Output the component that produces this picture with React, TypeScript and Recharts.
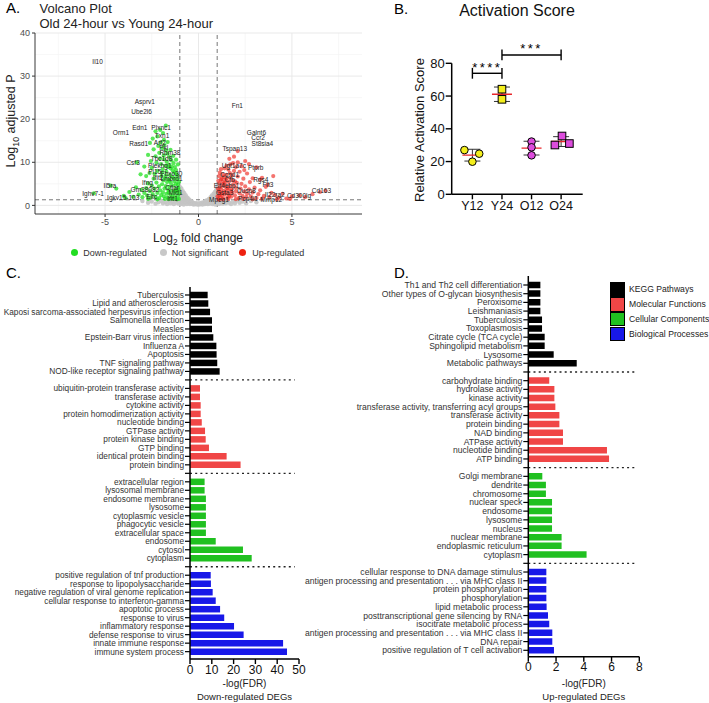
import React from 'react'
import {
  ScatterChart, Scatter, XAxis, YAxis, CartesianGrid, ReferenceLine, ErrorBar,
  BarChart, Bar, Cell,
} from 'recharts'

const FONT = '"Liberation Sans", Arial, Helvetica, sans-serif'

// ---------- A. volcano plot (log2 fold change, -log10 padj)
const notSigPoints = [
  [-1.0, 4.3], [-0.99, 3.4], [-0.98, 2.5], [-0.97, 1.7], [-0.96, 0.9], [-0.95, 0.3],
  [-0.92, 3.9], [-0.91, 3.0], [-0.9, 2.1], [-0.89, 1.3], [-0.87, 0.6],
  [-0.84, 3.3], [-0.83, 2.5], [-0.82, 1.7], [-0.8, 0.9], [-0.79, 0.2],
  [-0.76, 2.8], [-0.75, 2.0], [-0.73, 1.3], [-0.71, 0.6],
  [-0.68, 2.3], [-0.66, 1.6], [-0.64, 0.9], [-0.62, 0.3],
  [-0.59, 1.8], [-0.57, 1.2], [-0.55, 0.6], [-0.51, 1.4], [-0.49, 0.9], [-0.46, 0.3],
  [-0.43, 1.1], [-0.4, 0.6], [-0.36, 0.9], [-0.33, 0.3], [-0.29, 0.6], [-0.25, 0.2],
  [-0.21, 0.5], [-0.16, 0.3], [-0.11, 0.5], [-0.06, 0.2], [-0.02, 0.4],
  [0.03, 0.2], [0.07, 0.5], [0.12, 0.3], [0.17, 0.6], [0.21, 0.2], [0.26, 0.5], [0.3, 0.8],
  [0.34, 0.3], [0.38, 1.0], [0.42, 0.5], [0.46, 1.2], [0.5, 0.3], [0.53, 0.8], [0.56, 1.5],
  [0.6, 0.4], [0.62, 1.1], [0.65, 1.9], [0.68, 0.6], [0.7, 1.5], [0.72, 2.3], [0.75, 0.3],
  [0.77, 1.0], [0.79, 1.8], [0.81, 2.7], [0.84, 0.6], [0.85, 1.4], [0.87, 2.2], [0.88, 3.1],
  [0.9, 0.2], [0.91, 1.0], [0.92, 1.8], [0.94, 2.7], [0.95, 3.6], [0.97, 0.6], [0.98, 1.4],
  [0.99, 2.3], [1.0, 3.2], [1.0, 4.1],
  [-1.05, 0.4], [-1.1, 1.0], [-1.18, 0.6], [-1.25, 1.1], [-1.32, 0.3], [-1.4, 0.8], [-1.5, 0.5],
  [-1.58, 1.0], [-1.68, 0.3], [-1.78, 0.8], [-1.9, 0.5], [-2.0, 1.0], [-2.15, 0.7], [-2.3, 0.4],
  [-2.5, 0.9], [-2.7, 0.6], [-3.0, 1.0],
  [1.05, 0.9], [1.1, 0.3], [1.17, 0.7], [1.24, 1.1], [1.3, 0.4], [1.38, 0.9], [1.46, 0.5],
  [1.55, 1.1], [1.64, 0.6], [1.74, 0.3], [1.84, 0.9], [1.95, 0.5], [2.05, 1.1], [2.2, 0.6],
  [2.35, 0.9], [2.55, 0.5], [2.8, 1.0], [3.1, 0.7],
]

const downPoints = [
  [-1.05, 1.5], [-1.1, 2.3], [-1.15, 3.2], [-1.08, 4.1], [-1.2, 5.0], [-1.12, 6.1], [-1.25, 1.9],
  [-1.3, 2.8], [-1.22, 3.7], [-1.35, 4.6], [-1.28, 5.6], [-1.4, 6.5], [-1.18, 7.3], [-1.45, 1.6],
  [-1.5, 2.5], [-1.42, 3.4], [-1.55, 4.3], [-1.48, 5.2], [-1.6, 6.0], [-1.52, 7.0], [-1.65, 1.8],
  [-1.7, 2.7], [-1.62, 3.6], [-1.75, 4.5], [-1.68, 5.4], [-1.8, 6.3], [-1.72, 7.8], [-1.85, 2.1],
  [-1.9, 3.0], [-1.82, 3.9], [-1.95, 4.9], [-1.88, 5.8], [-2.0, 2.4], [-1.98, 6.8], [-2.05, 3.5],
  [-2.1, 1.7], [-2.12, 4.4], [-2.2, 2.9], [-2.25, 5.3], [-2.3, 2.0], [-2.35, 3.9], [-2.4, 6.2],
  [-2.45, 2.6], [-2.5, 4.6], [-2.55, 1.8], [-2.6, 3.3], [-2.7, 5.1], [-2.75, 2.3], [-2.8, 4.0],
  [-2.9, 2.9], [-3.0, 1.9], [-3.05, 3.6], [-3.2, 2.5], [-3.35, 4.2], [-3.5, 2.0], [-3.7, 3.1],
  [-4.0, 2.2], [-4.4, 3.9], [-4.7, 4.6], [-5.6, 2.8], [-3.9, 1.7],
  [-1.02, 2.8], [-1.06, 3.6], [-1.1, 4.8], [-1.04, 5.5], [-1.14, 6.9], [-1.2, 8.2], [-1.3, 7.6],
  [-1.26, 8.9], [-1.38, 8.1], [-1.44, 9.0], [-1.34, 9.8], [-1.5, 8.6], [-1.58, 9.4], [-1.46, 10.5],
  [-1.64, 8.9], [-1.7, 10.1], [-1.56, 11.2], [-1.78, 9.2], [-1.84, 10.7], [-1.66, 12.0],
  [-1.92, 8.4], [-1.74, 12.8], [-1.86, 11.6], [-2.0, 9.6], [-1.94, 13.3], [-2.06, 10.9],
  [-1.82, 14.0], [-2.1, 12.2], [-2.2, 8.0], [-2.15, 13.8], [-2.02, 14.6], [-2.25, 9.9],
  [-2.3, 11.4], [-2.35, 7.3], [-2.4, 13.0], [-2.5, 8.7], [-2.55, 10.3], [-2.62, 7.5], [-2.7, 11.7],
  [-2.8, 6.8], [-2.9, 9.0], [-3.1, 7.2], [-3.3, 10.0], [-2.45, 15.5], [-2.2, 16.0], [-1.9, 16.8],
  [-2.05, 17.5], [-1.75, 18.5], [-2.3, 17.2], [-1.85, 15.2], [-2.6, 14.5],
  [-1.15, 1.4], [-1.35, 1.5], [-1.6, 1.45], [-1.8, 1.5], [-2.2, 1.4], [-2.7, 1.5],
  [-1.25, 3.3], [-1.4, 2.1], [-1.6, 3.0], [-1.55, 5.8], [-1.3, 6.3], [-1.75, 6.9], [-1.95, 7.6],
  [-1.1, 9.5], [-1.2, 10.6], [-1.35, 11.5], [-1.5, 12.9], [-1.65, 14.7],
]

const upPoints = [
  [1.05, 1.5], [1.1, 2.4], [1.08, 3.3], [1.15, 4.2], [1.12, 5.1], [1.2, 6.0], [1.18, 1.9],
  [1.25, 2.8], [1.22, 3.7], [1.3, 4.6], [1.28, 5.5], [1.35, 6.6], [1.32, 1.6], [1.4, 2.5],
  [1.38, 3.4], [1.45, 4.3], [1.42, 5.2], [1.5, 6.2], [1.48, 7.1], [1.55, 1.8], [1.6, 2.7],
  [1.58, 3.6], [1.65, 4.5], [1.62, 5.4], [1.7, 6.4], [1.68, 7.5], [1.75, 2.0], [1.8, 2.9],
  [1.78, 3.8], [1.85, 4.8], [1.82, 5.8], [1.9, 8.0], [1.95, 2.3], [2.0, 3.3], [1.98, 4.2],
  [2.05, 5.2], [2.1, 6.7], [2.15, 1.7], [2.2, 2.8], [2.25, 3.9], [2.3, 5.0], [2.35, 2.2],
  [2.4, 6.2], [2.45, 3.2], [2.5, 4.4], [2.55, 1.9], [2.6, 2.7], [2.7, 3.7], [2.75, 5.4],
  [2.8, 2.1], [2.9, 3.0], [3.0, 4.1], [3.1, 1.7], [3.2, 2.6], [3.3, 3.5], [3.4, 6.4], [3.5, 2.2],
  [3.6, 4.3], [3.8, 1.9], [3.9, 2.9], [4.0, 6.8], [4.1, 2.4], [4.3, 1.8], [4.5, 2.7], [4.7, 1.6],
  [5.0, 2.1], [5.4, 2.3], [5.7, 1.9], [6.1, 2.6], [6.5, 3.1], [6.8, 3.4],
  [1.02, 2.1], [1.04, 3.9], [1.06, 5.7], [1.1, 6.8], [1.14, 7.6], [1.2, 8.4], [1.3, 7.2],
  [1.4, 8.6], [1.5, 9.2], [1.6, 8.3], [1.7, 9.5], [1.8, 7.0], [1.85, 9.8], [2.0, 8.9],
  [2.1, 10.0], [2.2, 7.8], [2.3, 9.1], [2.45, 8.2], [2.6, 7.4], [2.7, 9.6], [2.9, 6.3],
  [3.1, 8.8], [3.3, 6.0], [3.7, 4.8], [2.1, 12.6], [2.5, 10.3], [1.65, 10.8], [1.9, 11.3],
  [1.1, 1.3], [1.3, 1.4], [1.6, 1.5], [2.0, 1.45], [2.4, 1.5], [2.9, 1.4], [3.4, 1.55],
  [4.2, 1.4], [4.9, 1.5], [1.25, 2.3], [1.45, 3.0], [1.35, 5.0], [1.55, 4.0], [1.75, 3.3],
  [1.95, 5.6], [1.15, 3.0], [1.25, 6.2], [1.45, 5.9], [1.65, 2.2],
]

const geneLabels = [
  { name: 'Il10', x: -5.4, y: 33.4 }, { name: 'Asprv1', x: -2.87, y: 24.2 },
  { name: 'Ube2l6', x: -3.05, y: 21.9 }, { name: 'Orm1', x: -4.15, y: 16.8 },
  { name: 'Edn1', x: -3.14, y: 18.0 }, { name: 'Plxnc1', x: -2.0, y: 18.1 },
  { name: 'Txn1', x: -1.95, y: 16.3 }, { name: 'Rasd1', x: -3.2, y: 14.3 },
  { name: 'Arf2', x: -2.07, y: 14.6 }, { name: 'Pkl', x: -1.86, y: 13.5 },
  { name: 'Rbm38', x: -1.53, y: 12.2 }, { name: 'Tbc1d8', x: -1.98, y: 10.9 },
  { name: 'Csf3', x: -3.5, y: 9.9 }, { name: 'Plekhg1', x: -2.07, y: 9.3 },
  { name: 'Pi15', x: -2.34, y: 7.8 }, { name: 'Fbxo30', x: -1.44, y: 7.4 },
  { name: 'Ifit2', x: -2.16, y: 6.5 }, { name: 'Lmbrd1', x: -1.44, y: 6.2 },
  { name: 'Ifng', x: -2.73, y: 5.3 }, { name: 'Il5ra', x: -4.74, y: 4.65 },
  { name: 'Gm38082', x: -2.87, y: 3.65 }, { name: 'Cflar', x: -1.41, y: 4.2 },
  { name: 'Ighv7-1', x: -5.64, y: 2.7 }, { name: 'Igkv15-103', x: -4.03, y: 1.86 },
  { name: 'Mid1', x: -1.23, y: 2.9 }, { name: 'Eltc', x: -2.51, y: 1.95 },
  { name: 'Ifit1', x: -1.39, y: 1.55 },
  { name: 'Fn1', x: 2.08, y: 23.2 }, { name: 'Galnt6', x: 3.1, y: 17.0 },
  { name: 'Ccr2', x: 3.19, y: 15.7 }, { name: 'St8sia4', x: 3.42, y: 14.3 },
  { name: 'Tspan13', x: 1.94, y: 13.1 }, { name: 'Ugt1a7c', x: 1.89, y: 9.3 },
  { name: 'Ptprb', x: 3.06, y: 8.8 }, { name: 'Ccnd1', x: 1.67, y: 7.1 },
  { name: 'Cfb', x: 1.67, y: 6.0 }, { name: 'Rgs4', x: 3.33, y: 6.0 },
  { name: 'Flt3', x: 3.72, y: 4.8 }, { name: 'Eif4ebp1', x: 1.5, y: 4.6 },
  { name: 'Dusp8', x: 2.57, y: 3.5 }, { name: 'Gsta3', x: 1.4, y: 3.0 },
  { name: 'Il22ra2', x: 4.08, y: 2.5 }, { name: 'Cd300lg', x: 5.38, y: 2.26 },
  { name: 'Cd163', x: 6.58, y: 3.5 }, { name: 'Mpeg1', x: 1.1, y: 1.3 },
  { name: 'Pcp4l1', x: 2.65, y: 1.7 }, { name: 'Mmp12', x: 3.9, y: 1.3 },
]

// ---------- B. activation score
const groupNames = ['Y12', 'Y24', 'O12', 'O24']
const y12Points = [{ x: 0.73, y: 27.0 }, { x: 1.23, y: 24.8 }, { x: 1.0, y: 19.9 }]
const y24Points = [{ x: 2.0, y: 64.2 }, { x: 2.0, y: 58.0 }]
const o12Points = [{ x: 3.0, y: 32.2 }, { x: 3.0, y: 28.7 }, { x: 3.0, y: 23.8 }]
const o24Points = [{ x: 3.79, y: 30.1 }, { x: 4.03, y: 35.6 }, { x: 4.28, y: 31.0 }]
const groupSummary = [
  { x: 1, y: 23.9, sd: 3.6 }, { x: 2, y: 61.1, sd: 4.4 },
  { x: 3, y: 28.2, sd: 4.2 }, { x: 4, y: 32.2, sd: 3.0 },
]
const sigBrackets = [{ from: 1, to: 2, y: 73.9 }, { from: 2, to: 4, y: 85.1 }]
const sigStars = [{ x: 1.5, y: 79, t: '****' }, { x: 3, y: 90.6, t: '***' }]

// ---------- C. enrichment, down-regulated DEGs
const cKeggLabels = ['Tuberculosis', 'Lipid and atherosclerosis', 'Kaposi sarcoma-associated herpesvirus infection', 'Salmonella infection', 'Measles', 'Epstein-Barr virus infection', 'Influenza A', 'Apoptosis', 'TNF signaling pathway', 'NOD-like receptor signaling pathway']
const cKeggValues = [8.1, 8.4, 9.2, 10.1, 10.1, 10.7, 12.1, 12.2, 12.5, 13.6]
const cMfLabels = ['ubiquitin-protein transferase activity', 'transferase activity', 'cytokine activity', 'protein homodimerization activity', 'nucleotide binding', 'GTPase activity', 'protein kinase binding', 'GTP binding', 'identical protein binding', 'protein binding']
const cMfValues = [4.6, 4.6, 4.9, 4.9, 5.4, 6.9, 7.2, 8.7, 16.8, 23.2]
const cCcLabels = ['extracellular region', 'lysosomal membrane', 'endosome membrane', 'lysosome', 'cytoplasmic vesicle', 'phagocytic vesicle', 'extracellular space', 'endosome', 'cytosol', 'cytoplasm']
const cCcValues = [6.7, 6.7, 7.3, 7.3, 7.3, 7.3, 7.3, 11.8, 24.3, 28.3]
const cBpLabels = ['positive regulation of tnf production', 'response to lipopolysaccharide', 'negative regulation of viral genome replication', 'cellular response to interferon-gamma', 'apoptotic process', 'response to virus', 'inflammatory response', 'defense response to virus', 'innate immune response', 'immune system process']
const cBpValues = [9.5, 9.6, 10.4, 11.8, 13.8, 15.7, 20.2, 24.6, 42.7, 44.5]

// ---------- D. enrichment, up-regulated DEGs
const dKeggLabels = ['Th1 and Th2 cell differentiation', 'Other types of O-glycan biosynthesis', 'Peroxisome', 'Leishmaniasis', 'Tuberculosis', 'Toxoplasmosis', 'Citrate cycle (TCA cycle)', 'Sphingolipid metabolism', 'Lysosome', 'Metabolic pathways']
const dKeggValues = [0.87, 0.87, 0.87, 0.87, 0.99, 0.99, 1.18, 1.18, 1.83, 3.49]
const dMfLabels = ['carbohydrate binding', 'hydrolase activity', 'kinase activity', 'transferase activity, transferring acyl groups', 'transferase activity', 'protein binding', 'NAD binding', 'ATPase activity', 'nucleotide binding', 'ATP binding']
const dMfValues = [1.51, 1.88, 1.88, 1.95, 2.24, 2.24, 2.5, 2.5, 5.67, 5.82]
const dCcLabels = ['Golgi membrane', 'dendrite', 'chromosome', 'nuclear speck', 'endosome', 'lysosome', 'nucleus', 'nuclear membrane', 'endoplasmic reticulum', 'cytoplasm']
const dCcValues = [1.01, 1.27, 1.27, 1.71, 1.71, 1.71, 1.71, 2.4, 2.4, 4.2]
const dBpLabels = ['cellular response to DNA damage stimulus', 'antigen processing and presentation . . . via MHC class II', 'protein phosphorylation', 'phosphorylation', 'lipid metabolic process', 'posttranscriptional gene silencing by RNA', 'isocitrate metabolic process', 'antigen processing and presentation . . . via MHC class II', 'DNA repair', 'positive regulation of T cell activation']
const dBpValues = [1.3, 1.3, 1.3, 1.3, 1.32, 1.42, 1.51, 1.73, 1.73, 1.85]

const categoryNames = ['KEGG Pathways', 'Molecular Functions', 'Cellular Components', 'Biological Processes']
const categoryColors = ['#000000', '#f04646', '#20c020', '#1818e8']

type Row = { key: string; label: string; v: number | null; color: string }

function buildRows(labels: string[][], values: number[][]): Row[] {
  const rows: Row[] = []
  labels.forEach((ls, gi) => {
    if (gi > 0) rows.push({ key: `gap${gi}`, label: '', v: null, color: 'none' })
    ls.forEach((l, i) => rows.push({ key: `r${rows.length}`, label: l, v: values[gi][i], color: categoryColors[gi] }))
  })
  return rows
}

const cRows = buildRows([cKeggLabels, cMfLabels, cCcLabels, cBpLabels], [cKeggValues, cMfValues, cCcValues, cBpValues])
const dRows = buildRows([dKeggLabels, dMfLabels, dCcLabels, dBpLabels], [dKeggValues, dMfValues, dCcValues, dBpValues])

const toPts = (arr: number[][]) => arr.map(([x, y]) => ({ x, y }))

function Txt({ x, y, size, anchor = 'start', color = '#000', rotate = 0, children }: any) {
  const tx = anchor === 'middle' ? '-50%' : anchor === 'end' ? '-100%' : '0'
  return (
    <div style={{
      position: 'absolute', left: x, top: y, fontSize: size, lineHeight: 1, color,
      whiteSpace: 'nowrap', transform: `translate(${tx}, -50%)${rotate ? ` rotate(${rotate}deg)` : ''}`,
    }}>{children}</div>
  )
}

const dot = (fill: string, op: number, r = 2) => (p: any) => (
  <circle cx={p.cx} cy={p.cy} r={r} fill={fill} fillOpacity={op} />
)

function Volcano() {
  return (
    <div style={{ position: 'absolute', left: 0, top: 0 }}>
      <ScatterChart width={370} height={262} margin={{ top: 33, right: 8, bottom: 28, left: 0 }}>
        <CartesianGrid horizontalValues={[5, 15, 25, 35]} verticalValues={[-7.5, -2.5, 2.5, 7.5]} stroke="#f2f2f2" strokeWidth={0.6} />
        <CartesianGrid horizontalValues={[0, 10, 20, 30, 40]} verticalValues={[-5, 0, 5]} stroke="#e6e6e6" strokeWidth={0.9} />
        <XAxis type="number" dataKey="x" domain={[-8.75, 8.75]} ticks={[-5, 0, 5]} allowDataOverflow height={20}
          tick={{ fontSize: 9, fill: '#4d4d4d' }} tickSize={3} tickLine={{ stroke: '#333' }} axisLine={{ stroke: '#222', strokeWidth: 0.9 }} />
        <YAxis type="number" dataKey="y" domain={[-2, 40]} ticks={[0, 10, 20, 30, 40]} allowDataOverflow width={35}
          tick={{ fontSize: 9, fill: '#4d4d4d' }} tickSize={3} tickMargin={2} tickLine={{ stroke: '#333' }} axisLine={{ stroke: '#222', strokeWidth: 0.9 }} />
        <Scatter data={toPts(notSigPoints)} shape={dot('#c4c4c4', 0.9, 2.2)} isAnimationActive={false} />
        <Scatter data={toPts(downPoints)} shape={dot('#22e022', 0.75, 2.1)} isAnimationActive={false} />
        <Scatter data={toPts(upPoints)} shape={dot('#ee2a22', 0.65, 2.1)} isAnimationActive={false} />
        <ReferenceLine x={-1} stroke="#555" strokeDasharray="4 3" strokeWidth={0.8} />
        <ReferenceLine x={1} stroke="#555" strokeDasharray="4 3" strokeWidth={0.8} />
        <ReferenceLine y={1.3} stroke="#555" strokeDasharray="4 3" strokeWidth={0.8} />
        <Scatter data={geneLabels} isAnimationActive={false}
          shape={(p: any) => (
            <text x={p.cx} y={p.cy} fontSize={6.5} textAnchor="middle" dominantBaseline="central" fill="#222">
              {p.payload?.name ?? p.name}
            </text>
          )} />
      </ScatterChart>
    </div>
  )
}

const marker = (kind: 'circle' | 'square', fill: string) => (p: any) =>
  kind === 'circle'
    ? <circle cx={p.cx} cy={p.cy} r={3.8} fill={fill} stroke="#000" strokeWidth={1} />
    : <rect x={p.cx - 3.8} y={p.cy - 3.8} width={7.6} height={7.6} fill={fill} stroke="#000" strokeWidth={1} />

function Activation() {
  const legH = 3.3
  return (
    <div style={{ position: 'absolute', left: 360, top: 0 }}>
      <ScatterChart width={240} height={230} margin={{ top: 37.1, right: 17.3, bottom: 15.7, left: 51.7 }}>
        <XAxis type="number" dataKey="x" domain={[0.3, 4.73]} ticks={[1, 2, 3, 4]} allowDataOverflow height={20}
          tickFormatter={(v: number) => groupNames[v - 1]} tick={{ fontSize: 12.5, fill: '#111' }}
          tickSize={5} tickLine={{ stroke: '#000', strokeWidth: 1.4 }} axisLine={{ stroke: '#000', strokeWidth: 1.5 }} />
        <YAxis type="number" dataKey="y" domain={[0, 96]} ticks={[0, 20, 40, 60, 80]} allowDataOverflow width={40}
          tick={{ fontSize: 13, fill: '#111' }} tickSize={6} tickMargin={1} tickLine={{ stroke: '#000', strokeWidth: 1.4 }} axisLine={false} />
        <ReferenceLine segment={[{ x: 0.3, y: 0 }, { x: 0.3, y: 80 }]} stroke="#000" strokeWidth={1.5} ifOverflow="visible" />
        {sigBrackets.flatMap((b, i) => [
          <ReferenceLine key={`h${i}`} segment={[{ x: b.from, y: b.y }, { x: b.to, y: b.y }]} stroke="#000" strokeWidth={1.4} />,
          <ReferenceLine key={`l${i}`} segment={[{ x: b.from, y: b.y - legH }, { x: b.from, y: b.y + legH }]} stroke="#000" strokeWidth={1.4} />,
          <ReferenceLine key={`r${i}`} segment={[{ x: b.to, y: b.y - legH }, { x: b.to, y: b.y + legH }]} stroke="#000" strokeWidth={1.4} />,
        ])}
        <Scatter data={groupSummary} isAnimationActive={false}
          shape={(p: any) => <line x1={p.cx - 10} x2={p.cx + 10} y1={p.cy} y2={p.cy} stroke="#e8262a" strokeWidth={1.4} />}>
          <ErrorBar dataKey="sd" direction="y" width={8} stroke="#333" strokeWidth={1} />
        </Scatter>
        <Scatter data={y12Points} shape={marker('circle', '#f4ef1c')} isAnimationActive={false} />
        <Scatter data={y24Points} shape={marker('square', '#f4ef1c')} isAnimationActive={false} />
        <Scatter data={o12Points} shape={marker('circle', '#dc4cdc')} isAnimationActive={false} />
        <Scatter data={o24Points} shape={marker('square', '#dc4cdc')} isAnimationActive={false} />
        <Scatter data={sigStars} isAnimationActive={false}
          shape={(p: any) => (
            <text x={p.cx} y={p.cy} dy={7} fontSize={13} letterSpacing={2.4} textAnchor="middle" fill="#000">
              {p.payload?.t ?? p.t}
            </text>
          )} />
      </ScatterChart>
    </div>
  )
}

type BarsProps = {
  rows: Row[]; left: number; top: number; width: number; height: number
  margin: { top: number; right: number; bottom: number; left: number }
  yWidth: number; pad: { top: number; bottom: number }
  max: number; ticks: number[]; dashEnd: number; labelSize: number
}

function EnrichBars({ rows, left, top, width, height, margin, yWidth, pad, max, ticks, dashEnd, labelSize }: BarsProps) {
  const labelOf = new Map(rows.map((r) => [r.key, r.label]))
  const gaps = rows.filter((r) => r.v === null).map((r) => r.key)
  return (
    <div style={{ position: 'absolute', left, top }}>
      <BarChart layout="vertical" width={width} height={height} data={rows} margin={margin}>
        <XAxis type="number" domain={[0, max]} ticks={ticks} allowDataOverflow height={16}
          tick={{ fontSize: 12, fill: '#111' }} tickSize={5} tickMargin={1}
          tickLine={{ stroke: '#000', strokeWidth: 1.4 }} axisLine={{ stroke: '#000', strokeWidth: 1.5 }} />
        <YAxis type="category" dataKey="key" width={yWidth} interval={0} padding={pad}
          tickSize={5} tickMargin={1} tickLine={{ stroke: '#000', strokeWidth: 1.2 }} axisLine={{ stroke: '#000', strokeWidth: 1.5 }}
          tick={(p: any) => (
            <text x={p.x} y={p.y} dy="0.35em" textAnchor="end" fontSize={labelSize} fill="#333">
              {labelOf.get(p.payload?.value) ?? ''}
            </text>
          )} />
        {gaps.map((k) => (
          <ReferenceLine key={k} segment={[{ x: 0, y: k }, { x: dashEnd, y: k }]}
            stroke="#222" strokeWidth={1.3} strokeDasharray="2 3.2" />
        ))}
        <Bar dataKey="v" barSize={6.5} isAnimationActive={false}>
          {rows.map((r) => <Cell key={r.key} fill={r.color} />)}
        </Bar>
      </BarChart>
    </div>
  )
}

const legendTops = [282.2, 297, 311.7, 326.5]

export default function App() {
  return (
    <div style={{ position: 'absolute', left: 0, top: 0, width: 709, height: 703, background: '#fff', fontFamily: FONT, overflow: 'hidden' }}>
      <style>{`.recharts-surface{overflow:visible}`}</style>

      {/* A */}
      <Volcano />
      <Txt x={6} y={7} size={15}>A.</Txt>
      <Txt x={39.5} y={7.5} size={13} color="#222">Volcano Plot</Txt>
      <Txt x={39.5} y={23} size={13} color="#222">Old 24-hour vs Young 24-hour</Txt>
      <Txt x={12.5} y={121} size={12.5} anchor="middle" rotate={-90} color="#222">
        Log<sub style={{ fontSize: '0.7em' }}>10</sub> adjusted P
      </Txt>
      <Txt x={198} y={238.5} size={12} anchor="middle" color="#222">
        Log<sub style={{ fontSize: '0.7em' }}>2</sub> fold change
      </Txt>
      {[
        { cx: 74, tx: 83.3, c: '#22dd22', t: 'Down-regulated' },
        { cx: 163.3, tx: 171.7, c: '#c8c8c8', t: 'Not significant' },
        { cx: 242.7, tx: 252.3, c: '#ee2211', t: 'Up-regulated' },
      ].map((l) => (
        <React.Fragment key={l.t}>
          <div style={{ position: 'absolute', left: l.cx - 3.5, top: 252.7 - 3.5, width: 7, height: 7, borderRadius: '50%', background: l.c }} />
          <Txt x={l.tx} y={253} size={9} color="#333">{l.t}</Txt>
        </React.Fragment>
      ))}

      {/* B */}
      <Activation />
      <Txt x={394} y={8} size={15}>B.</Txt>
      <Txt x={517} y={11} size={16} anchor="middle" color="#111">Activation Score</Txt>
      <Txt x={419.3} y={130} size={13} anchor="middle" rotate={-90} color="#111">Relative Activation Score</Txt>

      {/* C */}
      <EnrichBars rows={cRows} left={0} top={280} width={340} height={420}
        margin={{ top: 7, right: 41, bottom: 25, left: 0 }} yWidth={190} pad={{ top: 3.75, bottom: 3.1 }}
        max={50} ticks={[0, 10, 20, 30, 40, 50]} dashEnd={48} labelSize={8.3} />
      <Txt x={6} y={272} size={15}>C.</Txt>
      <Txt x={244.5} y={684} size={10} anchor="middle" color="#222">-log(FDR)</Txt>
      <Txt x={244.5} y={697} size={9.5} anchor="middle" color="#222">Down-regulated DEGs</Txt>

      {/* D */}
      <EnrichBars rows={dRows} left={340} top={270} width={320} height={430}
        margin={{ top: 6, right: 20.7, bottom: 27.3, left: 0 }} yWidth={188.3} pad={{ top: 4.65, bottom: 2.05 }}
        max={8} ticks={[0, 2, 4, 6, 8]} dashEnd={7.8} labelSize={8.6} />
      <Txt x={394} y={272} size={15}>D.</Txt>
      <Txt x={583.8} y={684} size={10} anchor="middle" color="#222">-log(FDR)</Txt>
      <Txt x={583.8} y={697} size={9.5} anchor="middle" color="#222">Up-regulated DEGs</Txt>
      {categoryNames.map((n, i) => (
        <React.Fragment key={n}>
          <div style={{ position: 'absolute', left: 610, top: legendTops[i], width: 12.5, height: 12.5, background: categoryColors[i], border: '1px solid #000' }} />
          <Txt x={629} y={legendTops[i] + 7} size={8.6} color="#222">{n}</Txt>
        </React.Fragment>
      ))}
    </div>
  )
}
